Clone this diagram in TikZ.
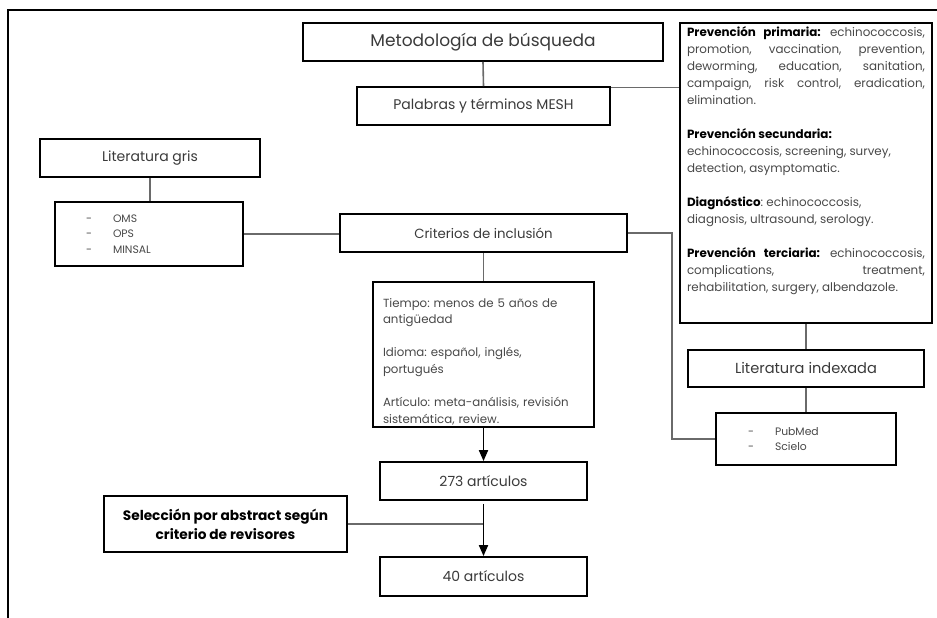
\documentclass[tikz,border=0pt]{standalone}
\usepackage{fontspec}
\setmainfont{Poppins}
\usetikzlibrary{arrows.meta}
\definecolor{txt}{HTML}{3A3A3A}
\definecolor{smalltxt}{HTML}{484848}
\definecolor{conn}{HTML}{6A6A6A}
\frenchspacing
\begin{document}
\begin{tikzpicture}[x=1pt,y=-1pt,
  box/.style={draw=black,line width=1.8pt,inner sep=0pt,align=center,text=txt},
  title/.style={box,font=\fontsize{14}{17}\selectfont\frenchspacing},
  smallf/.style={font=\fontsize{11.8}{16.6}\selectfont\frenchspacing,text=smalltxt},
  bigf/.style={font=\fontsize{11.9}{17}\selectfont\frenchspacing,text=smalltxt},
  listf/.style={font=\fontsize{10.8}{15.5}\selectfont\frenchspacing,text=smalltxt},
  connline/.style={draw=conn,line width=1.6pt},
  arr/.style={draw=black,line width=1.8pt,-{Triangle[width=9pt,length=11pt]}},
  frame/.style={draw=black,line width=2.6pt}
]
\useasboundingbox (0,0) rectangle (937,618);
\coordinate (fbot) at (8,618);
\coordinate (fcorner) at (8,10);
\coordinate (fright) at (937,10);
\draw[frame] (fbot) -- (fcorner) -- (fright);

\node[box,font=\fontsize{17}{20}\selectfont,minimum width=360pt,minimum height=38pt] (met) at (483,42) {Metodología de búsqueda};
\node[title,minimum width=253pt,minimum height=38pt] (pal) at (483.5,106) {Palabras y términos MESH};

\node[box,bigf,minimum width=252pt,minimum height=300pt,text width=238pt,align=justify] (big) at (806,173) {%
\parindent=0pt
\rule{0pt}{14pt}\textbf{\color{black}Prevención primaria:} echinococcosis,\linebreak promotion, vaccination, prevention,\linebreak deworming, education, sanitation,\linebreak campaign, risk control, eradication,\linebreak elimination.\par
\vspace{17pt}
{\raggedright\textbf{\color{black}Prevención secundaria:}\\ echinococcosis, screening, survey,\\ detection, asymptomatic.\par}
\vspace{17pt}
{\raggedright\textbf{\color{black}Diagnóstico}: echinococcosis,\\ diagnosis, ultrasound, serology.\par}
\vspace{17pt}
\textbf{\color{black}Prevención terciaria:} echinococcosis,\linebreak complications, treatment,\linebreak rehabilitation, surgery, albendazole.\par
\vspace*{28pt}};

\node[title,minimum width=220pt,minimum height=38pt] (gris) at (150,158) {Literatura gris};
\node[box,listf,minimum width=188pt,minimum height=64pt,text width=188pt,align=left] (oms) at (149,234) {%
\hspace*{31pt}\makebox[27pt][l]{-}OMS\\
\hspace*{31pt}\makebox[27pt][l]{-}OPS\\
\hspace*{31pt}\makebox[27pt][l]{-}MINSAL};

\node[title,font=\fontsize{13.3}{16}\selectfont,minimum width=287pt,minimum height=38pt] (crit) at (483.5,233) {Criterios de inclusión};
\node[box,smallf,minimum width=221pt,minimum height=145pt,text width=201pt,align=left] (tiempo) at (483.5,354.5) {%
\rule{0pt}{23pt}Tiempo: menos de 5 años de\\ antigüedad\\[16.6pt]
Idioma: español, inglés,\\ portugués\\[16.6pt]
Artículo: meta-análisis, revisión\\ sistemática, review.};

\node[title,minimum width=207pt,minimum height=38pt] (n273) at (483.5,481) {273 artículos};
\node[box,font=\bfseries\fontsize{13.7}{19}\selectfont,text=black,minimum width=243pt,minimum height=56pt] (sel) at (225.5,524) {Selección por abstract según\\ criterio de revisores};
\node[title,minimum width=207pt,minimum height=39pt] (n40) at (483.5,576.5) {40 artículos};

\node[title,font=\fontsize{14.6}{17}\selectfont,minimum width=236pt,minimum height=37pt] (indx) at (806,368.5) {Literatura indexada};
\node[box,listf,minimum width=180pt,minimum height=52pt,text width=180pt,align=left] (pub) at (806,439) {%
\hspace*{32pt}\makebox[27pt][l]{-}PubMed\\
\hspace*{32pt}\makebox[27pt][l]{-}Scielo};

\coordinate (bend) at (672,0);

\draw[connline] (met.south) -- (pal.north);
\draw[connline] ([yshift=-1.5pt]pal.north east) -- ([yshift=-1.5pt]pal.north east -| big.west);
\draw[connline] (gris.south) -- (gris.south |- oms.north);
\draw[connline] (oms.east) -- (oms.east -| crit.west);
\draw[connline] (crit.south) -- (crit.south |- tiempo.north);
\draw[connline] (crit.east) -- (crit.east -| bend) |- (pub.west);
\draw[connline] (big.south) -- (indx.north);
\draw[connline] (indx.south) -- (pub.north);
\draw[connline] (sel.east) -- (sel.east -| n273.south);
\draw[arr] (tiempo.south) -- (n273.north);
\draw[arr] ([yshift=-3pt]n273.south) -- (n40.north);
\end{tikzpicture}
\end{document}
